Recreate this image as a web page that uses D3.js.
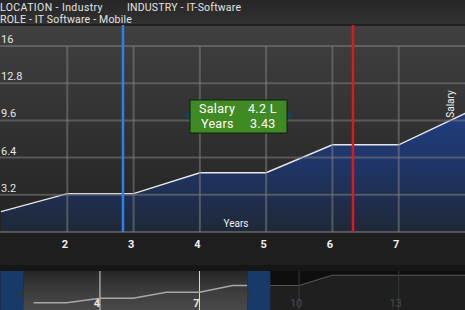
<!DOCTYPE html>
<html>
<head>
<meta charset="utf-8">
<script src="https://cdn.jsdelivr.net/npm/d3@7/dist/d3.min.js"></script>
<style>
  html, body { margin: 0; padding: 0; background: #1e1e1e; }
  svg { display: block; font-family: Roboto, "Noto Sans", sans-serif; }
</style>
</head>
<body>
<svg class="salary-chart" width="465" height="310"></svg>
<script>
// data
var years = [1, 2, 3, 4, 5, 6, 7, 8, 9, 10, 11, 12, 13, 14, 15];
var salary = [1.75, 3.3, 3.3, 5.1, 5.1, 7.5, 7.5, 10.2, 10.2, 10.2, 14.3, 14.3, 14.3, 14.3, 14.3];
var yTicks = [3.2, 6.4, 9.6, 12.8, 16];
var xTicks = [2, 3, 4, 5, 6, 7];
var navTicks = [4, 7, 10, 13];
var markerYears = [2.84, 6.31];
var markerColors = ['#2584e6', '#e01818'];
var headerLines = [
  ['LOCATION - Industry', 'INDUSTRY - IT-Software'],
  ['ROLE - IT Software - Mobile']
];
var tooltipLines = [['Salary', '4.2 L'], ['Years', '3.43']];
var navWindow = [1.69, 8.44];

(function SalaryChartModule() {

  'use strict';

  var _w = 465,
    _plotTop = 25,
    _plotBottom = 232,
    _navTop = 271,
    _navBottom = 310,
    _handleW = 23;

  var svg = d3.select('.salary-chart');
  var defs = svg.append('defs');

  var points = years.map(function (y, i) { return { year: y, value: salary[i] }; });

  // scales
  var x = d3.scaleLinear().domain([1, 8]).range([1, _w]);
  var y = d3.scaleLinear().domain([0, 16]).range([_plotBottom, 46]);
  var nx = d3.scaleLinear().domain([1, 15]).range([0.4, _w]);
  var ny = d3.scaleLinear().domain([0, 16]).range([311, _navTop]);

  function grad(id, stops, y1, y2) {
    var g = defs.append('linearGradient').attr('id', id)
      .attr('gradientUnits', 'userSpaceOnUse')
      .attr('x1', 0).attr('x2', 0).attr('y1', y1).attr('y2', y2);
    stops.forEach(function (s) {
      g.append('stop').attr('offset', s[0]).attr('stop-color', s[1]);
    });
  }

  grad('plotBg', [[0, '#404040'], [1, '#222222']], _plotTop, _plotBottom);
  grad('headBg', [[0, '#262626'], [1, '#333333']], 0, _plotTop);
  grad('areaFill', [[0, '#1f3f86'], [0.5, '#1f3566'], [1, '#202838']], 100, _plotBottom);
  grad('tipFill', [[0, '#3f8a22'], [1, '#0b3a06']], 100, 133);
  grad('winFill', [[0, '#262626'], [0.5, '#3c3c3c'], [1, '#4a4a4a']], _navTop, _navBottom);
  grad('handleFill', [[0, '#183a68'], [1, '#10305c']], _navTop, _navBottom);

  defs.append('clipPath').attr('id', 'plotClip')
    .append('rect').attr('x', 0).attr('y', _plotTop).attr('width', _w).attr('height', _plotBottom - _plotTop);
  defs.append('clipPath').attr('id', 'winClip')
    .append('rect').attr('x', nx(navWindow[0])).attr('y', _navTop)
    .attr('width', nx(navWindow[1]) - nx(navWindow[0])).attr('height', _navBottom - _navTop);

  // backgrounds
  svg.append('rect').attr('width', _w).attr('height', _plotTop).attr('fill', 'url(#headBg)');
  svg.append('rect').attr('y', _plotTop).attr('width', _w).attr('height', _plotBottom - _plotTop).attr('fill', 'url(#plotBg)');
  svg.append('line').attr('x1', 0).attr('x2', _w).attr('y1', _plotTop).attr('y2', _plotTop)
    .attr('stroke', '#1a1a1a').attr('stroke-width', 1.5);

  // header text
  var head = svg.append('g').attr('fill', '#e2e2e2').style('font-size', '10.5px');
  head.append('text').attr('x', 0).attr('y', 10.5).style('letter-spacing', '0.4px').text(headerLines[0][0]);
  head.append('text').attr('x', 127).attr('y', 10.5).style('letter-spacing', '0.2px').text(headerLines[0][1]);
  head.append('text').attr('x', 0).attr('y', 23).style('letter-spacing', '0.2px').text(headerLines[1][0]);

  // area + line
  var plot = svg.append('g').attr('clip-path', 'url(#plotClip)');
  var area = d3.area().x(function (d) { return x(d.year); }).y0(_plotBottom).y1(function (d) { return y(d.value); });
  var line = d3.line().x(function (d) { return x(d.year); }).y(function (d) { return y(d.value); });
  plot.append('path').datum(points).attr('d', area).attr('fill', 'url(#areaFill)');

  // grid
  var grid = svg.append('g').attr('stroke', 'rgba(125,125,125,0.55)').attr('stroke-width', 2);
  grid.selectAll('line.h').data([0].concat(yTicks)).enter().append('line')
    .attr('x1', 0).attr('x2', _w)
    .attr('y1', function (d) { return y(d); }).attr('y2', function (d) { return y(d); });
  grid.selectAll('line.v').data(xTicks).enter().append('line')
    .attr('x1', function (d) { return x(d); }).attr('x2', function (d) { return x(d); })
    .attr('y1', y(16)).attr('y2', _plotBottom);

  plot.append('path').datum(points).attr('d', line)
    .attr('fill', 'none').attr('stroke', '#e8e8e8').attr('stroke-width', 1.4);

  // y labels
  svg.append('g').attr('fill', '#e6e6e6').style('font-size', '11px')
    .selectAll('text').data(yTicks).enter().append('text')
    .attr('x', 1).attr('y', function (d) { return y(d) - 3; })
    .text(function (d) { return d; });

  // axis titles
  svg.append('text').attr('x', 236).attr('y', 227).attr('text-anchor', 'middle')
    .attr('fill', '#f0f0f0').style('font-size', '10px').text('Years');
  svg.append('text').attr('transform', 'translate(454,104) rotate(-90)').attr('text-anchor', 'middle')
    .attr('fill', '#f0f0f0').style('font-size', '10px').text('Salary');

  // markers
  svg.selectAll('line.marker').data(markerYears).enter().append('line')
    .attr('x1', function (d) { return x(d); }).attr('x2', function (d) { return x(d); })
    .attr('y1', _plotTop).attr('y2', _plotBottom)
    .attr('stroke', function (d, i) { return markerColors[i]; }).attr('stroke-width', 2.5);

  // x labels
  svg.append('g').attr('fill', '#f2f2f2').style('font-size', '11px').style('font-weight', 'bold')
    .selectAll('text').data(xTicks).enter().append('text')
    .attr('x', function (d) { return x(d) - 2.5; }).attr('y', 248).attr('text-anchor', 'middle')
    .text(function (d) { return d; });

  // tooltip
  var tip = svg.append('g').attr('transform', 'translate(190,100)');
  tip.append('path').attr('d', 'M0,11 L-7,15.5 L0,20 Z').attr('fill', '#1d3f5a');
  tip.append('path').attr('d', 'M97,11 L104,15.5 L97,20 Z').attr('fill', '#1d3f5a');
  tip.append('rect').attr('width', 97).attr('height', 33).attr('fill', 'url(#tipFill)')
    .attr('stroke', '#0c2208').attr('stroke-width', 1);
  var tipText = tip.append('text').attr('fill', '#ffffff').style('font-size', '12.5px')
    .style('letter-spacing', '0.3px');
  tooltipLines.forEach(function (d, i) {
    tipText.append('tspan').attr('x', i ? 11 : 9).attr('y', 13 + i * 14.5).text(d[0]);
    tipText.append('tspan').attr('x', i ? 60 : 58).attr('y', 13 + i * 14.5).text(d[1]);
  });

  // navigator
  var navPts = points.slice(1);
  svg.append('rect').attr('y', 265).attr('width', _w).attr('height', _navTop - 265).attr('fill', '#161616');
  svg.append('rect').attr('y', _navTop).attr('width', _w).attr('height', _navBottom - _navTop).attr('fill', '#0e0e0e');
  var navArea = d3.area().x(function (d) { return nx(d.year); }).y0(_navBottom).y1(function (d) { return ny(d.value); });
  var navLine = d3.line().x(function (d) { return nx(d.year); }).y(function (d) { return ny(d.value); });
  svg.append('path').datum(points).attr('d', navArea).attr('fill', '#1f1f1f');
  svg.append('path').datum(navPts).attr('d', navLine).attr('fill', 'none').attr('stroke', '#555').attr('stroke-width', 1.2);
  svg.selectAll('line.nv').data(navTicks).enter().append('line')
    .attr('x1', function (d) { return nx(d); }).attr('x2', function (d) { return nx(d); })
    .attr('y1', _navTop).attr('y2', _navBottom).attr('stroke', '#3a3a3a').attr('stroke-width', 1);
  svg.selectAll('text.nv').data(navTicks).enter().append('text')
    .attr('x', function (d) { return nx(d) - 3; }).attr('y', 307).attr('text-anchor', 'middle')
    .attr('fill', '#4a4a4a').style('font-size', '11px')
    .text(function (d) { return d; });

  // selected window
  var win = svg.append('g').attr('clip-path', 'url(#winClip)');
  win.append('rect').attr('x', 0).attr('y', _navTop).attr('width', _w).attr('height', _navBottom - _navTop).attr('fill', 'url(#winFill)');
  win.selectAll('line').data(navTicks).enter().append('line')
    .attr('x1', function (d) { return nx(d); }).attr('x2', function (d) { return nx(d); })
    .attr('y1', _navTop).attr('y2', _navBottom).attr('stroke', '#d8d8d8').attr('stroke-width', 1);
  win.append('path').datum(navPts).attr('d', navLine).attr('fill', 'none').attr('stroke', '#a8a8a8').attr('stroke-width', 1.5);
  win.selectAll('text').data(navTicks).enter().append('text')
    .attr('x', function (d) { return nx(d) - 3; }).attr('y', 307).attr('text-anchor', 'middle')
    .attr('fill', '#e8e8e8').style('font-size', '11px').style('font-weight', 'bold')
    .text(function (d) { return d; });

  // handles
  var hx = [nx(navWindow[0]) - _handleW, nx(navWindow[1])];
  var handles = svg.selectAll('g.handle').data(hx).enter().append('g')
    .attr('transform', function (d) { return 'translate(' + d + ',' + _navTop + ')'; });
  handles.append('rect').attr('width', _handleW).attr('height', _navBottom - _navTop).attr('fill', 'url(#handleFill)');
  handles.append('path')
    .attr('d', function (d, i) { return i ? 'M0,19 L4,23 L0,27 Z' : 'M23,19 L19,23 L23,27 Z'; })
    .attr('fill', '#333');

})();
</script>
</body>
</html>
